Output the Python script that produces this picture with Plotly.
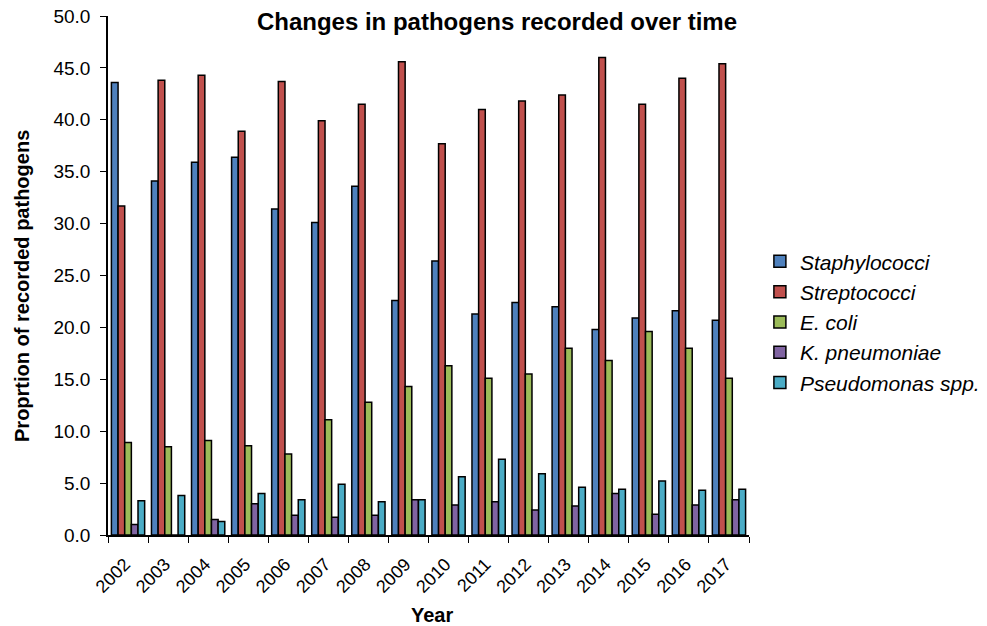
import plotly.graph_objects as go

years = ["2002", "2003", "2004", "2005", "2006", "2007", "2008", "2009",
         "2010", "2011", "2012", "2013", "2014", "2015", "2016", "2017"]
staphylococci = [43.6, 34.1, 35.9, 36.4, 31.4, 30.1, 33.6, 22.6, 26.4, 21.3, 22.4, 22.0, 19.8, 20.9, 21.6, 20.7]
streptococci = [31.7, 43.8, 44.3, 38.9, 43.7, 39.9, 41.5, 45.6, 37.7, 41.0, 41.8, 42.4, 46.0, 41.5, 44.0, 45.4]
e_coli = [8.9, 8.5, 9.1, 8.6, 7.8, 11.1, 12.8, 14.3, 16.3, 15.1, 15.5, 18.0, 16.8, 19.6, 18.0, 15.1]
k_pneumoniae = [1.0, 0.0, 1.5, 3.0, 1.9, 1.7, 1.9, 3.4, 2.9, 3.2, 2.4, 2.8, 4.0, 2.0, 2.9, 3.4]
pseudomonas = [3.3, 3.8, 1.3, 4.0, 3.4, 4.9, 3.2, 3.4, 5.6, 7.3, 5.9, 4.6, 4.4, 5.2, 4.3, 4.4]

series = [
    ("Staphylococci", staphylococci, "#4F81BD"),
    ("Streptococci", streptococci, "#C0504D"),
    ("E. coli", e_coli, "#9BBB59"),
    ("K. pneumoniae", k_pneumoniae, "#8064A2"),
    ("Pseudomonas spp.", pseudomonas, "#4BACC6"),
]

FONT = "Liberation Sans, Arial, sans-serif"

fig = go.Figure()
for name, vals, color in series:
    fig.add_trace(go.Bar(
        x=years, y=vals, name=name, legendgroup=name,
        marker=dict(color=color, line=dict(color="black", width=1.5)),
    ))

fig.update_layout(
    width=987, height=626,
    paper_bgcolor="white", plot_bgcolor="white",
    font=dict(family=FONT, color="black", size=18),
    barmode="group", bargap=0.17, bargroupgap=0,
    margin=dict(l=108, r=238, t=16, b=91, autoexpand=False),
    title=dict(text="<b>Changes in pathogens recorded over time</b>",
               x=0.5035, xanchor="center", y=0.965, yanchor="middle",
               font=dict(size=24, family=FONT)),
    legend=dict(x=1.017, y=0.41, xanchor="left", yanchor="middle",
                font=dict(size=21, family=FONT, style="italic"),
                traceorder="normal", bgcolor="rgba(0,0,0,0)",
                itemwidth=30, tracegroupgap=8),
    showlegend=True,
    annotations=[
        dict(text="<b>Year</b>", xref="paper", yref="paper", x=0.505, y=0,
             yshift=-80, xanchor="center", yanchor="middle", showarrow=False,
             font=dict(size=20, family=FONT)),
        dict(text="<b>Proprtion of recorded pathogens</b>", xref="paper", yref="paper",
             x=-0.134, y=0.48, xanchor="center", yanchor="middle", textangle=-90,
             showarrow=False, font=dict(size=20, family=FONT)),
    ],
)
fig.update_xaxes(
    showline=True, linecolor="black", linewidth=1.5,
    ticks="outside", tickson="boundaries", ticklen=6, tickcolor="black",
    tickangle=-45, tickfont=dict(size=18), automargin=False,
    ticklabelstandoff=10, ticklabelshift=-3, ticklabeloverflow="allow",
    showgrid=False,
)
fig.update_yaxes(
    range=[0, 50], dtick=5, tickformat=".1f",
    showline=True, linecolor="black", linewidth=1.5,
    ticks="outside", ticklen=6, tickcolor="black",
    tickfont=dict(size=19), automargin=False,
    ticklabelstandoff=6, ticklabeloverflow="allow",
    showgrid=False, zeroline=False,
)

fig.write_html("out.html", config={"displayModeBar": False},
               post_script="document.body.style.margin='0';")
